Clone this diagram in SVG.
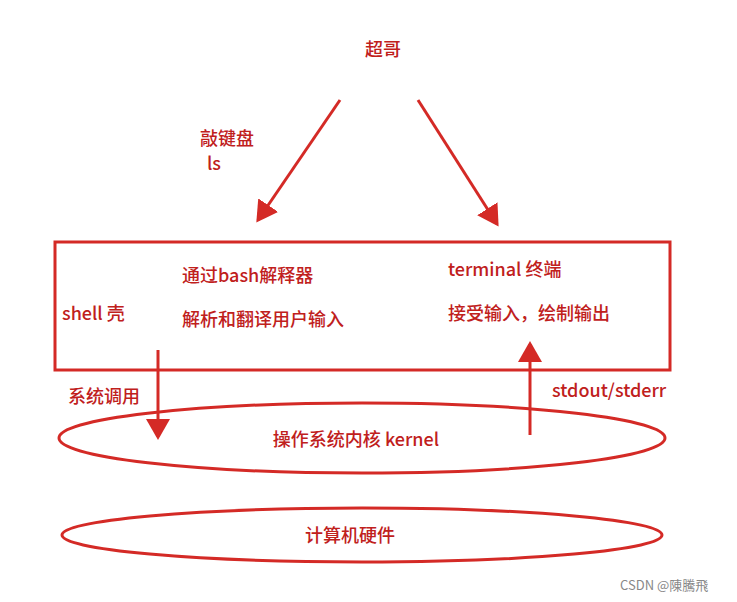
<svg xmlns="http://www.w3.org/2000/svg" width="737" height="602" viewBox="0 0 737 602">
<style>
.t{font-family:"Noto Sans CJK SC","Liberation Sans",sans-serif;fill:#c0201c;font-size:18px;font-weight:500}
.s{stroke:#d42a26;stroke-width:3;fill:none}
</style>
<defs><marker id="a" markerWidth="8" markerHeight="8" refX="6" refY="4" orient="auto" markerUnits="strokeWidth"><path d="M0,0L7,4L0,8z" fill="#d42a26"/></marker></defs>
<rect width="737" height="602" fill="#fff"/>
<g id="chaoge"><text class="t" x="383" y="56" text-anchor="middle" font-size="22" font-weight="bold">超哥</text></g>
<g id="keyboard"><text class="t" x="200" y="145">敲键盘</text><text class="t" x="207" y="170">ls</text></g>
<g id="shellbox"><rect x="55" y="242" width="615" height="128" class="s" stroke-width="2.5"/>
<text class="t" x="62" y="320">shell  壳</text>
<text class="t" x="182" y="282">通过bash解释器</text>
<text class="t" x="182" y="326">解析和翻译用户输入</text>
<text class="t" x="448" y="276">terminal 终端</text>
<text class="t" x="448" y="320">接受输入，绘制输出</text></g>
<g id="kernel"><ellipse cx="362" cy="438" rx="303" ry="35" class="s" stroke-width="2.5"/><text class="t" x="356" y="446" text-anchor="middle">操作系统内核 kernel</text></g>
<g id="hardware"><ellipse cx="362" cy="535" rx="300" ry="27" class="s" stroke-width="2.5"/><text class="t" x="350" y="542" text-anchor="middle">计算机硬件</text></g>
<g id="labels"><text class="t" x="68" y="403">系统调用</text><text class="t" x="552" y="397">stdout/stderr</text></g>
<g id="connectors" class="s">
<line x1="340" y1="100" x2="258" y2="220" marker-end="url(#a)"/>
<line x1="418" y1="100" x2="497" y2="224" marker-end="url(#a)"/>
<line x1="158" y1="350" x2="158" y2="437" marker-end="url(#a)"/>
<line x1="530" y1="435" x2="530" y2="344" marker-end="url(#a)"/>
</g>
<text x="620" y="590" font-family="Noto Sans CJK SC,sans-serif" font-size="13" fill="#888">CSDN @陳騰飛</text>
</svg>
